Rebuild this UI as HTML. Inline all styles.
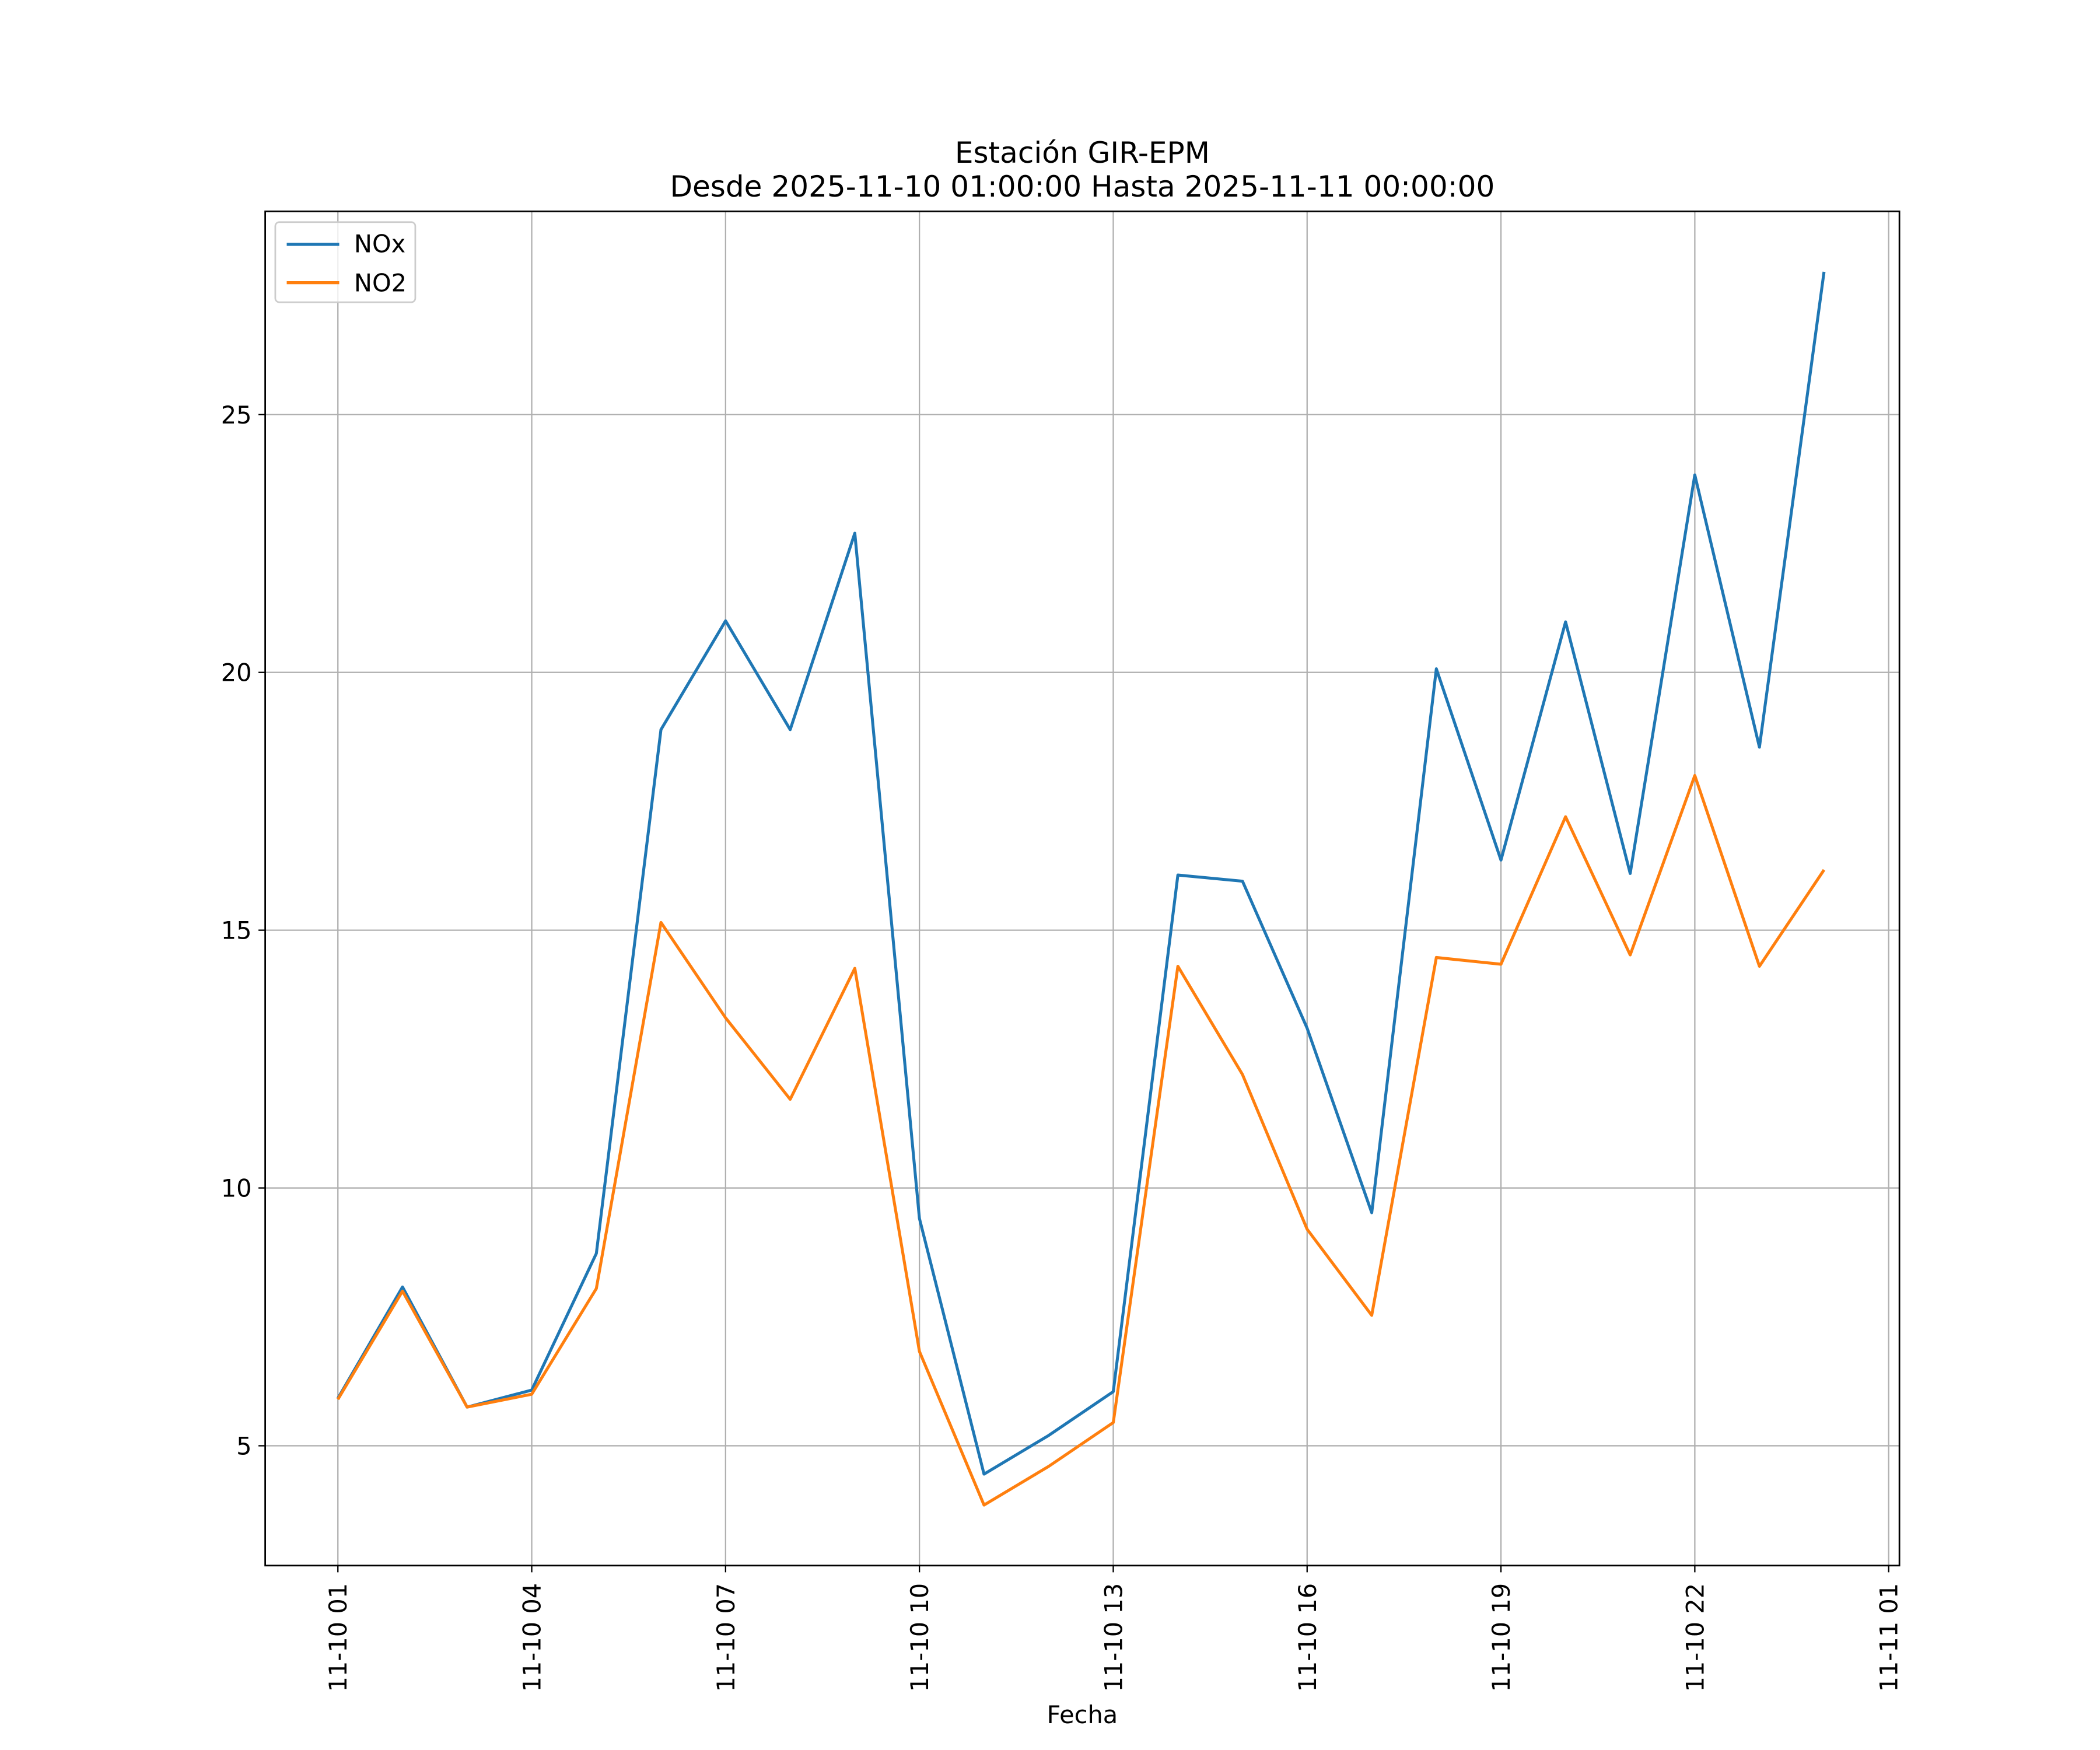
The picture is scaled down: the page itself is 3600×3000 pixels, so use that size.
<!DOCTYPE html>
<html><head><meta charset="utf-8"><style>html,body{margin:0;padding:0;background:#fff}svg{display:block}text{font-family:"DejaVu Sans","Liberation Sans",sans-serif;fill:#000}</style></head>
<body>
<svg id="chart" width="3600" height="3000" viewBox="0 0 1560 1300" xmlns="http://www.w3.org/2000/svg">
<text x="804" y="121" font-size="21.7" text-anchor="middle">Estación GIR-EPM</text>
<text x="804" y="146" font-size="21.7" text-anchor="middle">Desde 2025-11-10 01:00:00 Hasta 2025-11-11 00:00:00</text>
<g id="grid"></g>
<g id="series"></g>
<rect x="197" y="157" width="1214" height="1006" fill="none" stroke="#000" stroke-width="1.2"/>
<g id="ticks"></g>
<text x="804" y="1280" font-size="18" text-anchor="middle">Fecha</text>
<g>
<rect x="204.5" y="165" width="104" height="59.5" rx="3" fill="#fff" fill-opacity="0.8" stroke="#ccc" stroke-width="1.2"/>
<line x1="213" y1="181.5" x2="252" y2="181.5" stroke="#1f77b4" stroke-width="2.3"/>
<text x="263" y="187.5" font-size="18">NOx</text>
<line x1="213" y1="210" x2="252" y2="210" stroke="#ff7f0e" stroke-width="2.3"/>
<text x="263" y="216.5" font-size="18">NO2</text>
</g>
</svg>
<script>
const hours = [1,2,3,4,5,6,7,8,9,10,11,12,13,14,15,16,17,18,19,20,21,22,23,24];
const noxValues = [5.92,8.08,5.75,6.08,8.73,18.89,21.0,18.89,22.7,9.41,4.45,5.2,6.05,16.07,15.95,13.1,9.52,20.07,16.36,20.98,16.1,23.83,18.55,27.77];
const no2Values = [5.9,8.0,5.75,6.0,8.05,15.15,13.3,11.72,14.26,6.83,3.85,4.6,5.45,14.3,12.2,9.2,7.53,14.47,14.34,17.2,14.52,18.0,14.3,16.17];
const yTicks = [5,10,15,20,25];
const xTickHours = [1,4,7,10,13,16,19,22,25];
const xTickLabels = ["11-10 01","11-10 04","11-10 07","11-10 10","11-10 13","11-10 16","11-10 19","11-10 22","11-11 01"];
const NS="http://www.w3.org/2000/svg";
function xs(h){return 251+(h-1)*48.0;}
function ys(v){return 1074-(v-5)*38.3;}
function mk(tag,attrs,parent){const e=document.createElementNS(NS,tag);for(const k in attrs)e.setAttribute(k,attrs[k]);parent.appendChild(e);return e;}
const grid=document.getElementById('grid'),ticks=document.getElementById('ticks'),series=document.getElementById('series');
yTicks.forEach(v=>{
  const g=mk('line',{x1:197,x2:1411,y1:ys(v),y2:ys(v),stroke:'#b0b0b0','stroke-width':1},grid);
  
  
  const t=mk('line',{x1:192,x2:197,y1:ys(v),y2:ys(v),stroke:'#000','stroke-width':1},ticks);
  
  
  const l=mk('text',{x:187,y:ys(v)+6.5,'font-size':18,'text-anchor':'end'},ticks);
  l.textContent=String(v);
  
  
});
xTickHours.forEach((h,i)=>{
  const g=mk('line',{x1:xs(h),x2:xs(h),y1:157,y2:1163,stroke:'#b0b0b0','stroke-width':1},grid);
  
  
  const t=mk('line',{x1:xs(h),x2:xs(h),y1:1163,y2:1168,stroke:'#000','stroke-width':1},ticks);
  
  
  const l=mk('text',{x:0,y:0,'font-size':18,'text-anchor':'end',transform:`translate(${xs(h)+6.5},1176) rotate(-90)`},ticks);
  l.textContent=xTickLabels[i];
  
  
});
function line(vals,color,name){
  const p=mk('polyline',{points:vals.map((v,i)=>xs(hours[i])+','+ys(v)).join(' '),fill:'none',stroke:color,'stroke-width':2.2,'stroke-linejoin':'round'},series);
  
  
}
line(noxValues,'#1f77b4','nox-line');
line(no2Values,'#ff7f0e','no2-line');
</script>
</body></html>
